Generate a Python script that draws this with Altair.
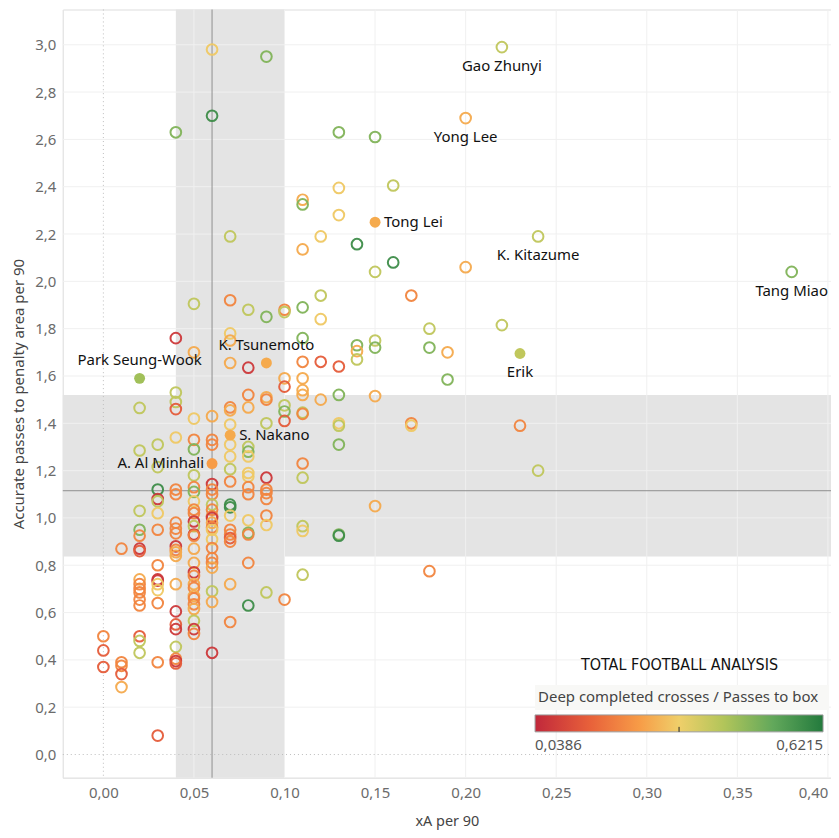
import altair as alt
import pandas as pd

# ---------------- data ----------------
# x position of each column of players (xA per 90)
col_x = [0.00, 0.01, 0.02, 0.03, 0.04, 0.05, 0.06, 0.07, 0.08, 0.09, 0.10,
         0.11, 0.12, 0.13, 0.14, 0.15, 0.16, 0.17, 0.18, 0.19, 0.20, 0.22,
         0.23, 0.24, 0.38]
# accurate passes to penalty area per 90, per column
col_y = [
    [0.50, 0.44, 0.37],
    [0.87, 0.39, 0.375, 0.34, 0.285],
    [1.465, 1.285, 1.03, 0.95, 0.925, 0.87, 0.86, 0.74, 0.72, 0.70, 0.685, 0.655, 0.63, 0.50, 0.48, 0.43],
    [1.31, 1.215, 1.12, 1.08, 1.07, 1.02, 0.95, 0.80, 0.74, 0.735, 0.72, 0.695, 0.64, 0.39, 0.08],
    [2.63, 1.76, 1.53, 1.49, 1.46, 1.34, 1.12, 1.10, 0.98, 0.955, 0.935, 0.88, 0.865, 0.855, 0.84, 0.72, 0.605, 0.55, 0.53, 0.455, 0.405, 0.395, 0.385],
    [1.905, 1.70, 1.42, 1.33, 1.29, 1.18, 1.13, 1.11, 1.07, 1.035, 1.02, 0.985, 0.965, 0.93, 0.925, 0.87, 0.81, 0.77, 0.755, 0.72, 0.705, 0.67, 0.66, 0.635, 0.615, 0.565, 0.53, 0.51],
    [2.98, 2.70, 1.43, 1.33, 1.31, 1.143, 1.12, 1.10, 1.056, 1.035, 1.007, 1.0, 0.98, 0.96, 0.95, 0.91, 0.873, 0.83, 0.81, 0.79, 0.69, 0.645, 0.43],
    [2.19, 1.92, 1.78, 1.75, 1.655, 1.467, 1.455, 1.395, 1.31, 1.26, 1.206, 1.154, 1.056, 1.045, 1.01, 0.95, 0.93, 0.915, 0.90, 0.72, 0.56],
    [1.88, 1.635, 1.52, 1.467, 1.30, 1.28, 1.26, 1.19, 1.175, 1.13, 1.10, 0.99, 0.937, 0.93, 0.81, 0.63],
    [2.95, 1.85, 1.51, 1.50, 1.40, 1.17, 1.12, 1.105, 1.08, 1.01, 0.97, 0.685],
    [1.88, 1.87, 1.59, 1.555, 1.476, 1.45, 1.41, 0.655],
    [2.345, 2.325, 2.135, 1.89, 1.76, 1.66, 1.59, 1.54, 1.52, 1.445, 1.44, 1.23, 1.17, 0.965, 0.945, 0.76],
    [2.19, 1.94, 1.84, 1.66, 1.50],
    [2.63, 2.395, 2.28, 1.64, 1.52, 1.40, 1.39, 1.31, 0.93, 0.925],
    [2.157, 1.73, 1.705, 1.67],
    [2.61, 2.04, 1.75, 1.72, 1.515, 1.05],
    [2.405, 2.08],
    [1.94, 1.40, 1.39],
    [1.80, 1.72, 0.775],
    [1.70, 1.585],
    [2.69, 2.06],
    [2.99, 1.815],
    [1.39],
    [2.19, 1.20],
    [2.04],
]
# deep completed crosses / passes to box, per column
col_c = [
    [0.21, 0.14, 0.14],
    [0.21, 0.21, 0.21, 0.14, 0.27],
    [0.40, 0.40, 0.40, 0.48, 0.21, 0.07, 0.14, 0.27, 0.21, 0.21, 0.21, 0.21, 0.21, 0.14, 0.40, 0.40],
    [0.40, 0.40, 0.58, 0.07, 0.40, 0.32, 0.21, 0.21, 0.07, 0.07, 0.32, 0.32, 0.21, 0.21, 0.14],
    [0.48, 0.07, 0.40, 0.40, 0.14, 0.32, 0.21, 0.21, 0.21, 0.21, 0.21, 0.07, 0.21, 0.27, 0.27, 0.27, 0.07, 0.14, 0.07, 0.40, 0.21, 0.07, 0.14],
    [0.40, 0.27, 0.32, 0.21, 0.48, 0.40, 0.21, 0.48, 0.32, 0.21, 0.21, 0.07, 0.40, 0.07, 0.21, 0.27, 0.27, 0.07, 0.21, 0.27, 0.21, 0.27, 0.21, 0.21, 0.27, 0.40, 0.07, 0.21],
    [0.32, 0.58, 0.27, 0.21, 0.21, 0.07, 0.21, 0.21, 0.40, 0.21, 0.21, 0.07, 0.27, 0.21, 0.32, 0.32, 0.21, 0.21, 0.21, 0.27, 0.40, 0.27, 0.07],
    [0.40, 0.21, 0.32, 0.27, 0.27, 0.21, 0.27, 0.32, 0.32, 0.32, 0.40, 0.21, 0.58, 0.58, 0.32, 0.21, 0.21, 0.14, 0.21, 0.27, 0.21],
    [0.40, 0.07, 0.21, 0.27, 0.40, 0.48, 0.32, 0.32, 0.32, 0.21, 0.21, 0.32, 0.48, 0.21, 0.21, 0.58],
    [0.48, 0.48, 0.27, 0.21, 0.40, 0.07, 0.21, 0.21, 0.21, 0.21, 0.32, 0.40],
    [0.21, 0.40, 0.27, 0.14, 0.40, 0.48, 0.14, 0.21],
    [0.27, 0.48, 0.27, 0.48, 0.48, 0.21, 0.27, 0.27, 0.27, 0.40, 0.21, 0.21, 0.40, 0.40, 0.32, 0.40],
    [0.32, 0.40, 0.32, 0.14, 0.27],
    [0.48, 0.32, 0.32, 0.14, 0.48, 0.32, 0.40, 0.48, 0.48, 0.58],
    [0.58, 0.48, 0.27, 0.40],
    [0.48, 0.40, 0.40, 0.48, 0.27, 0.27],
    [0.40, 0.58],
    [0.21, 0.21, 0.32],
    [0.40, 0.48, 0.21],
    [0.27, 0.48],
    [0.27, 0.27],
    [0.40, 0.40],
    [0.21],
    [0.40, 0.40],
    [0.48],
]

# highlighted (filled) players
hl_names = ["Park Seung-Wook", "K. Tsunemoto", "Tong Lei", "Erik", "S. Nakano", "A. Al Minhali"]
hl_x = [0.02, 0.09, 0.15, 0.23, 0.07, 0.06]
hl_y = [1.59, 1.655, 2.25, 1.695, 1.35, 1.23]
hl_c = [0.44, 0.27, 0.27, 0.40, 0.27, 0.25]

# labelled players (open circles)
lab_names = ["Gao Zhunyi", "Yong Lee", "K. Kitazume", "Tang Miao"]
lab_x = [0.22, 0.20, 0.24, 0.38]
lab_y = [2.99, 2.69, 2.19, 2.04]

# reference bands and average lines
x_band = [0.04, 0.10]
y_band = [0.837, 1.52]
x_mean = [0.06]
y_mean = [1.115]

x_ticks = [0.00, 0.05, 0.10, 0.15, 0.20, 0.25, 0.30, 0.35, 0.40]
y_ticks = [0.0, 0.2, 0.4, 0.6, 0.8, 1.0, 1.2, 1.4, 1.6, 1.8, 2.0, 2.2, 2.4, 2.6, 2.8, 3.0]

color_min, color_max = 0.0386, 0.6215
color_stops = [color_min, 0.15, 0.25, 0.33, 0.42, 0.52, color_max]
color_range = ["#c1283b", "#e8613a", "#f79c47", "#efcf6a", "#b2c55a", "#62a85b", "#237a3d"]
legend_title = "Deep completed crosses / Passes to box"

# ---------------- build tables ----------------
rows = []
for cx, ys, cs in zip(col_x, col_y, col_c):
    for yv, cv in zip(ys, cs):
        rows.append({"xa": cx, "acc": yv, "ratio": cv})
pts = pd.DataFrame(rows)
hl = pd.DataFrame({"name": hl_names, "xa": hl_x, "acc": hl_y, "ratio": hl_c})
lab = pd.DataFrame({"name": lab_names, "xa": lab_x, "acc": lab_y})

W, H = 771, 771
FONT = "Noto Sans"
XT = "xA per 90"
YT = "Accurate passes to penalty area per 90"

xscale = alt.Scale(domain=[-0.0224, 0.4017], nice=False, zero=False)
yscale = alt.Scale(domain=[-0.098, 3.149], nice=False, zero=False)
cscale = alt.Scale(domain=color_stops, range=color_range)

xaxis = alt.Axis(values=x_ticks, grid=False, ticks=False, tickSize=0, domain=True, domainColor="#e6e6e6",
                 labelExpr="replace(format(datum.value, '.2f'), '.', ',')", labelFlush=16,
                 labelFont=FONT, labelFontSize=15, labelColor="#6b6b6b", labelPadding=8,
                 titleFont=FONT, titleFontSize=14.5, titleFontWeight="normal", titleColor="#444444",
                 titlePadding=14)
yaxis = alt.Axis(values=y_ticks, grid=False, ticks=False, tickSize=0, domain=True, domainColor="#e6e6e6",
                 labelExpr="replace(format(datum.value, '.1f'), '.', ',')",
                 labelFont=FONT, labelFontSize=15, labelColor="#6b6b6b", labelPadding=7,
                 titleFont=FONT, titleFontSize=15, titleFontWeight="normal", titleColor="#444444",
                 titlePadding=8)


def X(field):
    return alt.X(field, scale=xscale, axis=xaxis, title=XT)


def Y(field):
    return alt.Y(field, scale=yscale, axis=yaxis, title=YT)


vband = alt.Chart(pd.DataFrame({"a": [x_band[0]], "b": [x_band[1]]})).mark_rect(color="#e4e4e4").encode(
    x=X("a:Q"), x2="b:Q", y=alt.value(0), y2=alt.value(H))
hband = alt.Chart(pd.DataFrame({"a": [y_band[0]], "b": [y_band[1]]})).mark_rect(color="#e4e4e4").encode(
    y=Y("a:Q"), y2="b:Q", x=alt.value(0), x2=alt.value(W))

xgrid = alt.Chart(pd.DataFrame({"v": [t for t in x_ticks if t != 0]})).mark_rule(color="#f0f0f0", strokeWidth=1).encode(
    x=X("v:Q"), y=alt.value(0), y2=alt.value(H))
ygrid = alt.Chart(pd.DataFrame({"v": [t for t in y_ticks if t != 0]})).mark_rule(color="#f0f0f0", strokeWidth=1).encode(
    y=Y("v:Q"), x=alt.value(0), x2=alt.value(W))
xzero = alt.Chart(pd.DataFrame({"v": [0.0]})).mark_rule(color="#bdbdbd", strokeWidth=1, strokeDash=[1, 3]).encode(
    x=X("v:Q"), y=alt.value(0), y2=alt.value(H))
yzero = alt.Chart(pd.DataFrame({"v": [0.0]})).mark_rule(color="#bdbdbd", strokeWidth=1, strokeDash=[1, 3]).encode(
    y=Y("v:Q"), x=alt.value(0), x2=alt.value(W))

xline = alt.Chart(pd.DataFrame({"v": x_mean})).mark_rule(color="#8f8f8f", strokeWidth=1).encode(
    x=X("v:Q"), y=alt.value(0), y2=alt.value(H))
yline = alt.Chart(pd.DataFrame({"v": y_mean})).mark_rule(color="#8f8f8f", strokeWidth=1).encode(
    y=Y("v:Q"), x=alt.value(0), x2=alt.value(W))

circles = alt.Chart(pts).mark_point(shape="circle", filled=False, size=115, strokeWidth=2, opacity=0.95).encode(
    x=X("xa:Q"),
    y=Y("acc:Q"),
    stroke=alt.Stroke("ratio:Q", scale=cscale, legend=None),
)

filled = alt.Chart(hl).mark_circle(size=120, opacity=1).encode(
    x=X("xa:Q"),
    y=Y("acc:Q"),
    fill=alt.Fill("ratio:Q", scale=cscale, legend=None),
)

txt = dict(font=FONT, fontSize=15, color="#111111")

lab_below = alt.Chart(pd.concat([lab, hl[hl["name"] == "Erik"]])).mark_text(align="center", dy=19, **txt).encode(
    x=X("xa:Q"), y=Y("acc:Q"), text="name:N")
lab_right = alt.Chart(hl[hl["name"].isin(["Tong Lei", "S. Nakano"])]).mark_text(align="left", dx=9, **txt).encode(
    x=X("xa:Q"), y=Y("acc:Q"), text="name:N")
lab_above = alt.Chart(hl[hl["name"].isin(["Park Seung-Wook", "K. Tsunemoto"])]).mark_text(align="center", dy=-18, **txt).encode(
    x=X("xa:Q"), y=Y("acc:Q"), text="name:N")
lab_left = alt.Chart(hl[hl["name"] == "A. Al Minhali"]).mark_text(align="right", dx=-8, **txt).encode(
    x=X("xa:Q"), y=Y("acc:Q"), text="name:N")

logo = alt.Chart(pd.DataFrame({"t": ["TOTAL FOOTBALL ANALYSIS"]})).mark_text(
    font="DejaVu Sans Condensed", fontSize=16, color="#111111",
    align="center", baseline="middle").encode(
    x=alt.value(619), y=alt.value(658), text="t:N")

# ---- colour legend (gradient bar drawn from the same colour stops) ----
LX0, LX1, LY0, LY1 = 474, 763, 708, 725
span = color_max - color_min
grad = alt.LinearGradient(
    gradient="linear", x1=0, x2=1, y1=0, y2=0,
    stops=[alt.GradientStop(color=c, offset=(d - color_min) / span) for d, c in zip(color_stops, color_range)],
)
one = pd.DataFrame({"t": [legend_title]})
leg_bg = alt.Chart(one).mark_rect(color="#f8f8f6").encode(
    x=alt.value(LX0), x2=alt.value(LX1 + 6), y=alt.value(LY0 - 30), y2=alt.value(LY0 - 5))
leg_title = alt.Chart(one).mark_text(align="left", baseline="middle", font=FONT, fontSize=15,
                                     color="#444444").encode(
    x=alt.value(LX0 + 3), y=alt.value(LY0 - 18), text="t:N")
leg_bar = alt.Chart(one).mark_rect(fill=grad, stroke="#9a9a9a", strokeWidth=1).encode(
    x=alt.value(LX0), x2=alt.value(LX1), y=alt.value(LY0), y2=alt.value(LY1))
leg_tick = alt.Chart(one).mark_rule(color="#222222", strokeWidth=1).encode(
    x=alt.value((LX0 + LX1) / 2), y=alt.value(LY1 - 5), y2=alt.value(LY1))
lab_df = pd.DataFrame({"v": [color_min, color_max],
                       "s": [f"{color_min:.4f}".replace(".", ","), f"{color_max:.4f}".replace(".", ",")]})
leg_lo = alt.Chart(lab_df[lab_df["v"] == color_min]).mark_text(
    align="left", baseline="middle", font=FONT, fontSize=15, color="#555555").encode(
    x=alt.value(LX0), y=alt.value(LY1 + 13), text="s:N")
leg_hi = alt.Chart(lab_df[lab_df["v"] == color_max]).mark_text(
    align="right", baseline="middle", font=FONT, fontSize=15, color="#555555").encode(
    x=alt.value(LX1), y=alt.value(LY1 + 13), text="s:N")

chart = alt.layer(
    vband, hband, xgrid, ygrid, xzero, yzero, xline, yline,
    circles, filled, lab_below, lab_right, lab_above, lab_left, logo,
    leg_bg, leg_title, leg_bar, leg_tick, leg_lo, leg_hi,
).properties(
    width=W, height=H,
    autosize=alt.AutoSizeParams(type="none"),
    padding={"left": 55, "top": 0, "right": 0, "bottom": 58},
).configure_view(stroke=None).configure(background="white")

chart.save("out.html", embed_options={"renderer": "svg", "actions": False})
